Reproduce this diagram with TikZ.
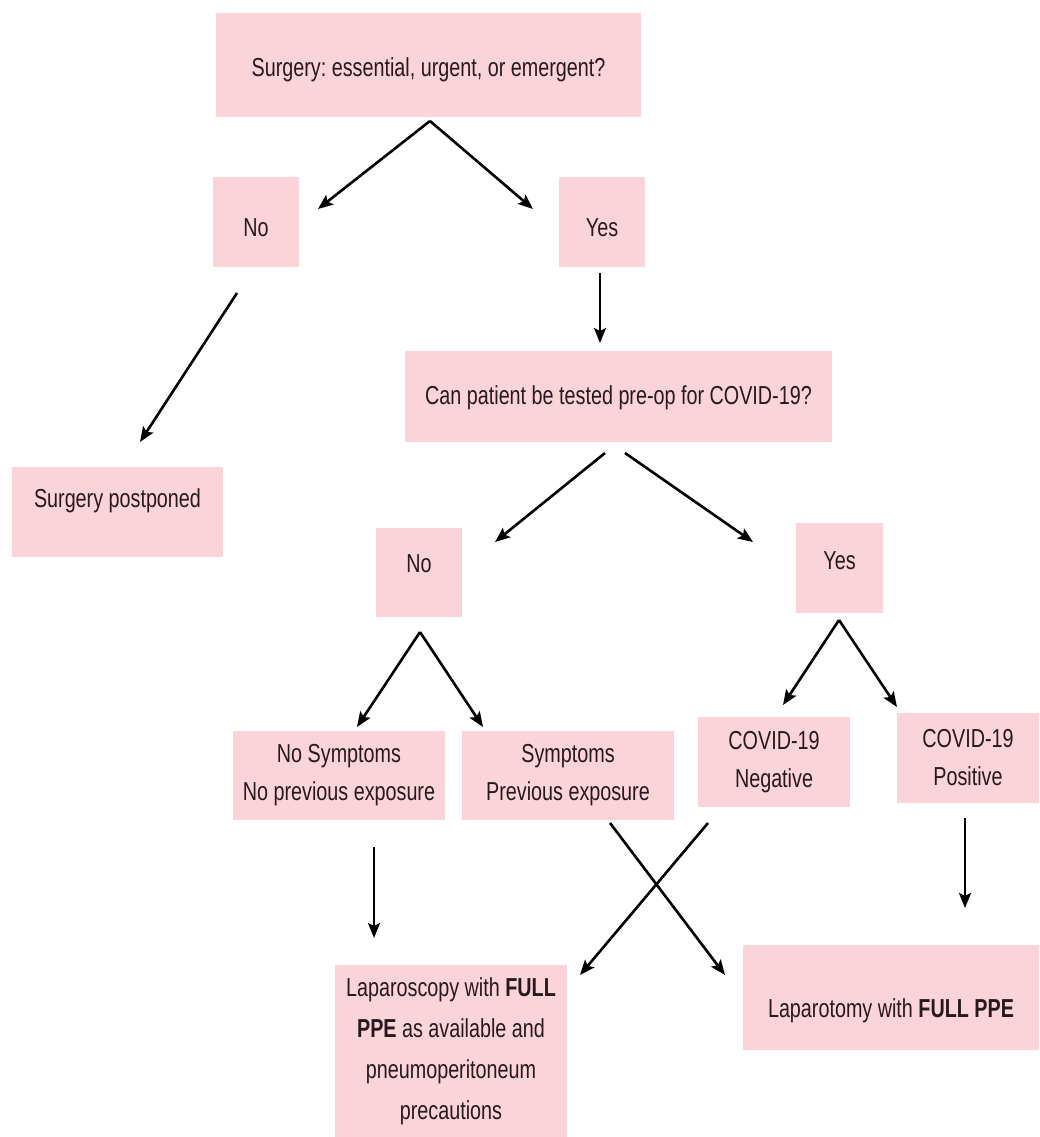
\documentclass[tikz,border=0pt]{standalone}
\usepackage{fontspec}
\setmainfont[FakeStretch=0.76]{Liberation Sans}
\usetikzlibrary{arrows.meta,calc}
\definecolor{boxpink}{RGB}{250,212,217}
\definecolor{txt}{RGB}{40,25,30}
\frenchspacing
\begin{document}
\begin{tikzpicture}[x=1pt,y=-1pt,
  box/.style={fill=boxpink, inner sep=0pt, text=txt, font=\fontsize{26}{38}\selectfont},
  arr/.style={draw=black, line width=2.6pt, -{Stealth[length=15pt,width=12pt,inset=3pt]}}]
\useasboundingbox[fill=white] (0,0) rectangle (1039,1137);

% boxes
\node[box, minimum width=425pt, text height=63.5pt, text depth=40.5pt] (top) at (428.5,65) {Surgery: essential, urgent, or emergent?};
\node[box, minimum width=86pt, text height=59.5pt, text depth=30.5pt] (no1) at (256,222) {No};
\node[box, minimum width=86pt, text height=59.5pt, text depth=30.5pt] (yes1) at (602,222) {Yes};
\node[box, minimum width=427pt, text height=53.5pt, text depth=37.5pt] (test) at (618.5,396.5) {Can patient be tested pre-op for COVID-19?};
\node[box, minimum width=211pt, text height=40pt, text depth=50pt] (postp) at (117.5,512) {Surgery postponed};
\node[box, minimum width=86pt, text height=44.5pt, text depth=44.5pt] (no2) at (419,572.5) {No};
\node[box, minimum width=87pt, text height=46.5pt, text depth=43.5pt] (yes2) at (839.5,568) {Yes};
\node[box, minimum width=212pt, minimum height=89pt, align=center] (nosym) at (339,775.5) {No Symptoms\\No previous exposure};
\node[box, minimum width=212pt, minimum height=89pt, align=center] (sym) at (568,775.5) {Symptoms\\Previous exposure};
\node[box, minimum width=152pt, minimum height=90pt, align=center] (neg) at (774,762) {COVID-19\\Negative};
\node[box, minimum width=142pt, minimum height=90pt, align=center] (pos) at (968,758) {COVID-19\\Positive};
\node[box, minimum width=232pt, minimum height=172pt, align=center, font=\fontsize{26}{41}\selectfont] (lscopy) at (451,1051) {Laparoscopy with \textbf{FULL}\\\textbf{PPE} as available and\\pneumoperitoneum\\precautions};
\node[box, minimum width=296pt, text height=72.5pt, text depth=32.5pt] (ltomy) at (891,997.5) {Laparotomy with \textbf{FULL PPE}};

% connector end points
\coordinate (c1) at (430,121);
\coordinate (c1a) at (318,209);
\coordinate (c1b) at (533,209);
\coordinate (c2) at (600,273);
\coordinate (c2a) at (600,343);
\coordinate (c3) at (237,293);
\coordinate (c3a) at (140,442);
\coordinate (c4) at (605,453);
\coordinate (c4a) at (495,542);
\coordinate (c5) at (625,453);
\coordinate (c5a) at (753,542);
\coordinate (c6) at (420,632);
\coordinate (c6a) at (357,727);
\coordinate (c6b) at (483,727);
\coordinate (c7) at (839,620);
\coordinate (c7a) at (783,705);
\coordinate (c7b) at (897,707);
\coordinate (c8) at (374,847);
\coordinate (c8a) at (374,938);
\coordinate (c9) at (610,823);
\coordinate (c9a) at (725,975);
\coordinate (c10) at (708,823);
\coordinate (c10a) at (580,975);
\coordinate (c11) at (965,818);
\coordinate (c11a) at (965,908);

% connectors
\draw[arr] (c1) -- (c1a);
\draw[arr] (c1) -- (c1b);
\draw[arr] (c2) -- (c2a);
\draw[arr] (c3) -- (c3a);
\draw[arr] (c4) -- (c4a);
\draw[arr] (c5) -- (c5a);
\draw[arr] (c6) -- (c6a);
\draw[arr] (c6) -- (c6b);
\draw[arr] (c7) -- (c7a);
\draw[arr] (c7) -- (c7b);
\draw[arr] (c8) -- (c8a);
\draw[arr] (c9) -- (c9a);
\draw[arr] (c10) -- (c10a);
\draw[arr] (c11) -- (c11a);
\end{tikzpicture}
\end{document}
